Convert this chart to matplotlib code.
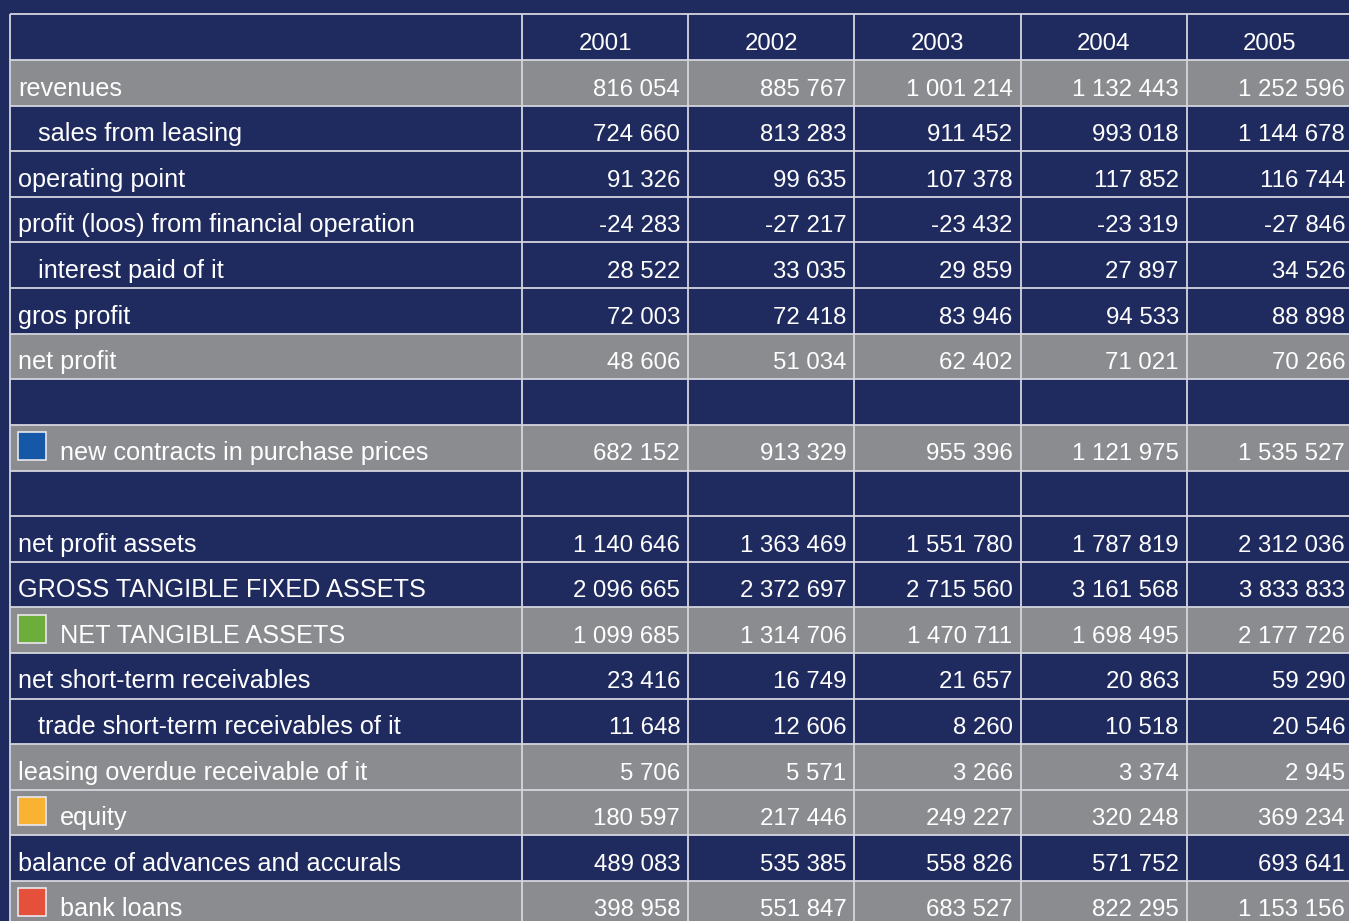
import matplotlib
matplotlib.use("Agg")
import matplotlib.pyplot as plt
from matplotlib.patches import Rectangle

years = ["2001", "2002", "2003", "2004", "2005"]

row_labels = [
    "revenues", "sales from leasing", "operating point",
    "profit (loos) from financial operation", "interest paid of it",
    "gros profit", "net profit", "", "new contracts in purchase prices", "",
    "net profit assets", "GROSS TANGIBLE FIXED ASSETS", "NET TANGIBLE ASSETS",
    "net short-term receivables", "trade short-term receivables of it",
    "leasing overdue receivable of it", "equity",
    "balance of advances and accurals", "bank loans",
]
indented = [False, True, False, False, True, False, False, False, False, False,
            False, False, False, False, True, False, False, False, False]
gray_rows = [True, False, False, False, False, False, True, False, True, False,
             False, False, True, False, False, True, True, False, True]
icons = [None, None, None, None, None, None, None, None, "#1658a8", None,
         None, None, "#6cad3c", None, None, None, "#f9b232", None, "#e5503a"]

values = [
    ["816 054", "885 767", "1 001 214", "1 132 443", "1 252 596"],
    ["724 660", "813 283", "911 452", "993 018", "1 144 678"],
    ["91 326", "99 635", "107 378", "117 852", "116 744"],
    ["-24 283", "-27 217", "-23 432", "-23 319", "-27 846"],
    ["28 522", "33 035", "29 859", "27 897", "34 526"],
    ["72 003", "72 418", "83 946", "94 533", "88 898"],
    ["48 606", "51 034", "62 402", "71 021", "70 266"],
    ["", "", "", "", ""],
    ["682 152", "913 329", "955 396", "1 121 975", "1 535 527"],
    ["", "", "", "", ""],
    ["1 140 646", "1 363 469", "1 551 780", "1 787 819", "2 312 036"],
    ["2 096 665", "2 372 697", "2 715 560", "3 161 568", "3 833 833"],
    ["1 099 685", "1 314 706", "1 470 711", "1 698 495", "2 177 726"],
    ["23 416", "16 749", "21 657", "20 863", "59 290"],
    ["11 648", "12 606", "8 260", "10 518", "20 546"],
    ["5 706", "5 571", "3 266", "3 374", "2 945"],
    ["180 597", "217 446", "249 227", "320 248", "369 234"],
    ["489 083", "535 385", "558 826", "571 752", "693 641"],
    ["398 958", "551 847", "683 527", "822 295", "1 153 156"],
]

NAVY = "#1f2a5f"
GRAY = "#8b8c8f"
LINE = "#d4d6de"
FS_LAB = 18.2
FS_NUM = 17.3
FONT = "Liberation Sans"

W, H = 1349, 921
fig = plt.figure(figsize=(W / 100, H / 100), dpi=100, facecolor=NAVY)
ax = fig.add_axes([0, 0, 1, 1])
ax.set_xlim(0, W)
ax.set_ylim(H, 0)
ax.axis("off")
ax.set_facecolor(NAVY)

x0, y0 = 9.5, 14.5
first_w = 512.5
col_w = 166.2
row_h = 45.6
n_rows = len(row_labels) + 1
col_edges = [x0, x0 + first_w] + [x0 + first_w + col_w * (i + 1) for i in range(len(years))]
table_right = col_edges[-1]
BASE = 0.78

# background of rows
for r in range(len(row_labels)):
    top = y0 + row_h * (r + 1)
    c = GRAY if gray_rows[r] else NAVY
    ax.add_patch(Rectangle((x0, top), table_right - x0, row_h, facecolor=c, edgecolor="none", zorder=1))

# grid lines
for r in range(n_rows + 1):
    y = y0 + row_h * r
    ax.plot([x0, table_right], [y, y], color=LINE, lw=1.3, zorder=3, solid_capstyle="butt")
for x in col_edges:
    ax.plot([x, x], [y0, y0 + row_h * n_rows], color=LINE, lw=1.3, zorder=3, solid_capstyle="butt")

# header
for i, yr in enumerate(years):
    cx = (col_edges[i + 1] + col_edges[i + 2]) / 2
    ax.text(cx, y0 + row_h * BASE, yr, ha="center", va="baseline", color="white",
            fontsize=FS_NUM, family=FONT, zorder=4)

# rows
for r, lab in enumerate(row_labels):
    by = y0 + row_h * (r + 1) + row_h * BASE
    if icons[r] is not None:
        ax.add_patch(Rectangle((17.5, by - 28), 28, 28, facecolor=icons[r], edgecolor="#e8e8ee",
                               lw=1.2, zorder=4))
        tx = 60
    elif indented[r]:
        tx = 38
    else:
        tx = 18
    ax.text(tx, by, lab, ha="left", va="baseline", color="white", fontsize=FS_LAB, family=FONT, zorder=4)
    for i, v in enumerate(values[r]):
        ax.text(col_edges[i + 2] - 8, by, v, ha="right", va="baseline", color="white",
                fontsize=FS_NUM, family=FONT, zorder=4)

fig.savefig("out.png", dpi=100, facecolor=NAVY)
